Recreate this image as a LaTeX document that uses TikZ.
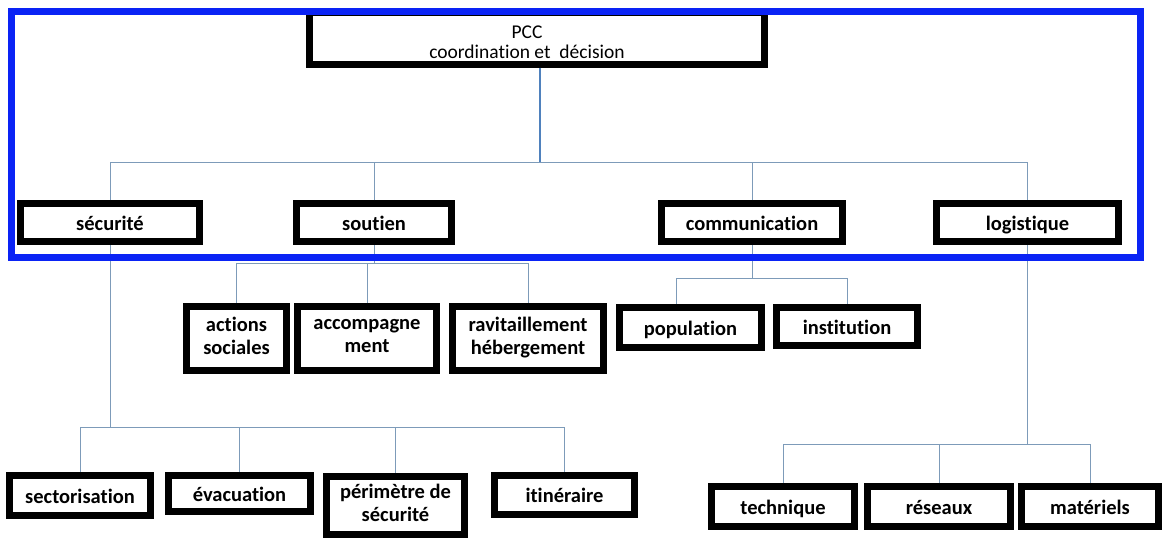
\documentclass[tikz,border=0pt]{standalone}
\usepackage{fontspec}
\setmainfont{Carlito}[Ligatures=NoCommon]
\definecolor{framblue}{RGB}{10,35,245}
\definecolor{linkblue}{RGB}{125,155,185}
\definecolor{mainblue}{RGB}{79,129,189}
\usetikzlibrary{positioning}
\newcommand\boxstrut{\rule[-5.5pt]{0pt}{26.2pt}}

\begin{document}
\begin{tikzpicture}[x=1pt, y=-1pt,
    box/.style={draw=black, line width=7pt, fill=white, inner sep=0pt, align=center,
        font=\fontsize{20.5}{23}\selectfont\bfseries,
        execute at begin node=\boxstrut, execute at end node=\boxstrut},
    link/.style={linkblue, line width=1pt},
    mainlink/.style={mainblue, line width=2.2pt},
    frame/.style={framblue, line width=7pt},
]
    \useasboundingbox (0,0) rectangle (1164,539);

    \node[box, minimum width=455, minimum height=52] (pcc) at (537,38) {};
    \node[align=center, font=\fontsize{19.5}{20}\selectfont] (pcctext) at (527,42) {PCC\\coordination et\ \ décision};

    \node[box, minimum width=179, minimum height=38] (sec) at (110,222.5) {sécurité};
    \node[box, minimum width=155, minimum height=38] (sou) at (374,222.5) {soutien};
    \node[box, minimum width=181, minimum height=38] (com) at (752,222.5) {communication};
    \node[box, minimum width=182, minimum height=38] (log) at (1027.5,222.5) {logistique};

    \node[box, minimum width=100, minimum height=64] (act) at (236.5,338.5) {actions\\sociales};
    \node[box, minimum width=139, minimum height=64] (acc) at (367,338.5) {accompagne\\ment};
    \node[box, minimum width=151, minimum height=64] (rav) at (528,338.5) {ravitaillement\\hébergement};

    \node[box, minimum width=142, minimum height=40] (pop) at (690.5,327.5) {population};
    \node[box, minimum width=141, minimum height=38] (ins) at (847,326.5) {institution};

    \node[box, minimum width=141, minimum height=40] (sect) at (80,495.5) {sectorisation};
    \node[box, minimum width=142, minimum height=36] (eva) at (239.5,493.5) {évacuation};
    \node[box, minimum width=138, minimum height=58] (per) at (395.5,505.5) {périmètre de\\sécurité};
    \node[box, minimum width=140, minimum height=39] (iti) at (564.5,495) {itinéraire};

    \node[box, minimum width=143, minimum height=40] (tec) at (783,506.5) {technique};
    \node[box, minimum width=143, minimum height=40] (res) at (939,506.5) {réseaux};
    \node[box, minimum width=137, minimum height=40] (mat) at (1090,506.5) {matériels};

    \coordinate (bar0) at (540,162);
    \coordinate (bar1) at (0,263);
    \coordinate (bar2) at (0,278);
    \coordinate (bar3) at (0,427);
    \coordinate (bar4) at (0,444);

    \draw[mainlink] (pcc.south -| bar0) -- (bar0);
    \draw[link] (sec.north) |- (bar0 -| log.north) -- (log.north);
    \draw[link] (sou.north) -- (sou.north |- bar0);
    \draw[link] (com.north) -- (com.north |- bar0);

    \draw[link] (sou.south) -- (sou.south |- bar1);
    \draw[link] (act.north) |- (bar1 -| rav.north) -- (rav.north);
    \draw[link] (acc.north) -- (acc.north |- bar1);

    \draw[link] (com.south) -- (com.south |- bar2);
    \draw[link] ([xshift=-14pt]pop.north) |- (bar2 -| ins.north) -- (ins.north);

    \draw[link] (sec.south) -- (sec.south |- bar3);
    \draw[link] (sect.north) |- (bar3 -| iti.north) -- (iti.north);
    \draw[link] (eva.north) -- (eva.north |- bar3);
    \draw[link] (per.north) -- (per.north |- bar3);

    \draw[link] (log.south) -- (log.south |- bar4);
    \draw[link] (tec.north) |- (bar4 -| mat.north) -- (mat.north);
    \draw[link] (res.north) -- (res.north |- bar4);

    \draw[frame] (11.5,11.5) rectangle (1140,257.5);
\end{tikzpicture}
\end{document}
